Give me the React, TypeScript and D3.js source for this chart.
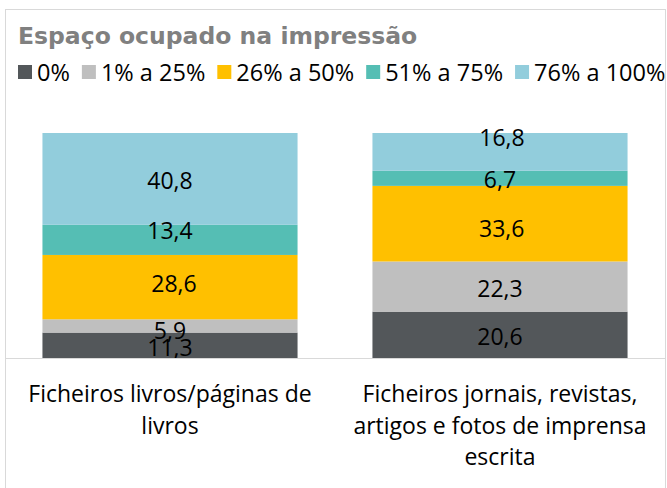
import React, { useEffect, useRef } from "react";
import * as d3 from "d3";

const categories = [
  ["Ficheiros livros/páginas de", "livros"],
  ["Ficheiros jornais, revistas,", "artigos e fotos de imprensa", "escrita"],
];
const seriesNames = ["0%", "1% a 25%", "26% a 50%", "51% a 75%", "76% a 100%"];
const seriesColors = ["#53575A", "#BFBFBF", "#FFC000", "#55BEB4", "#92CDDC"];
const livrosValues = [11.3, 5.9, 28.6, 13.4, 40.8];
const jornaisValues = [20.6, 22.3, 33.6, 6.7, 16.8];
const title = "Espaço ocupado na impressão";

// hand-placed label nudges [dx, dy] per category, per series (as in the original)
const labelNudges = [
  [[0, 2.5], [0, 4.5], [4, -3.5], [0, -9], [0, 1.7]],
  [[0, 1.4], [0, 2.3], [1.7, 5], [0, 1.6], [2, -14]],
];

const W = 667;
const H = 488;
const FONT = "'Open Sans', Lato, sans-serif";

function App() {
  const ref = useRef<SVGSVGElement>(null);

  useEffect(() => {
    const svg = d3.select(ref.current);
    svg.selectAll("*").remove();

    const frame = { left: 5, top: 9, right: 665 };
    const plotTop = 133;
    const plotBottom = 358;

    svg
      .append("rect")
      .attr("x", frame.left + 0.5)
      .attr("y", frame.top + 0.5)
      .attr("width", frame.right - frame.left)
      .attr("height", H)
      .attr("fill", "#fff")
      .attr("stroke", "#D9D9D9");

    svg
      .append("text")
      .attr("x", 18)
      .attr("y", 44)
      .attr("font-family", "'DejaVu Sans', sans-serif")
      .attr("font-weight", "bold")
      .attr("font-size", 23.5)
      .attr("fill", "#808080")
      .text(title);

    // legend
    const legend = svg.append("g").attr("font-family", FONT).attr("font-size", 23.5);
    let lx = 18;
    seriesNames.forEach((name, i) => {
      legend
        .append("rect")
        .attr("x", lx)
        .attr("y", 65)
        .attr("width", 14)
        .attr("height", 14)
        .attr("fill", seriesColors[i]);
      const t = legend
        .append("text")
        .attr("x", lx + 19)
        .attr("y", 80.5)
        .attr("fill", "#000")
        .text(name);
      const w = (t.node() as SVGTextElement).getComputedTextLength();
      lx += 19 + w + 12;
    });

    const rows = [livrosValues, jornaisValues].map((vals, ci) => {
      const r: Record<string, number> = { cat: ci };
      vals.forEach((v, i) => (r[seriesNames[i]] = v));
      return r;
    });

    const stack = d3.stack<Record<string, number>>().keys(seriesNames);
    const layers = stack(rows);

    const x = d3
      .scaleBand<number>()
      .domain([0, 1])
      .range([frame.left, frame.right])
      .paddingInner(0.227)
      .paddingOuter(0.1135);
    const y = d3.scaleLinear().domain([0, 100]).range([plotBottom, plotTop]);

    layers.forEach((layer, si) => {
      const g = svg.append("g");
      g.selectAll("rect")
        .data(layer)
        .join("rect")
        .attr("x", (d) => x(d.data.cat)!)
        .attr("width", x.bandwidth())
        .attr("y", (d) => y(d[1]))
        .attr("height", (d) => y(d[0]) - y(d[1]))
        .attr("fill", seriesColors[si]);
    });

    layers.forEach((layer, si) => {
      svg
        .append("g")
        .selectAll("text")
        .data(layer)
        .join("text")
        .attr("x", (d) => x(d.data.cat)! + x.bandwidth() / 2 + labelNudges[d.data.cat][si][0])
        .attr("y", (d) => (y(d[0]) + y(d[1])) / 2 + labelNudges[d.data.cat][si][1])
        .attr("dy", "0.36em")
        .attr("text-anchor", "middle")
        .attr("font-family", FONT)
        .attr("font-size", 23)
        .attr("fill", "#000")
        .text((d) => d3.format(".1f")(d[1] - d[0]).replace(".", ","));
    });

    svg
      .append("line")
      .attr("x1", frame.left)
      .attr("x2", frame.right)
      .attr("y1", plotBottom + 0.5)
      .attr("y2", plotBottom + 0.5)
      .attr("stroke", "#D9D9D9");

    categories.forEach((lines, ci) => {
      const t = svg
        .append("text")
        .attr("text-anchor", "middle")
        .attr("font-family", FONT)
        .attr("font-size", 23)
        .attr("fill", "#000");
      lines.forEach((line, li) => {
        t.append("tspan")
          .attr("x", x(ci)! + x.bandwidth() / 2)
          .attr("y", 402 + li * 31.5)
          .text(line);
      });
    });
  }, []);

  return (
    <svg
      ref={ref}
      width={W}
      height={H}
      style={{ position: "absolute", left: 0, top: 0, background: "#fff" }}
    />
  );
}

export default App;
